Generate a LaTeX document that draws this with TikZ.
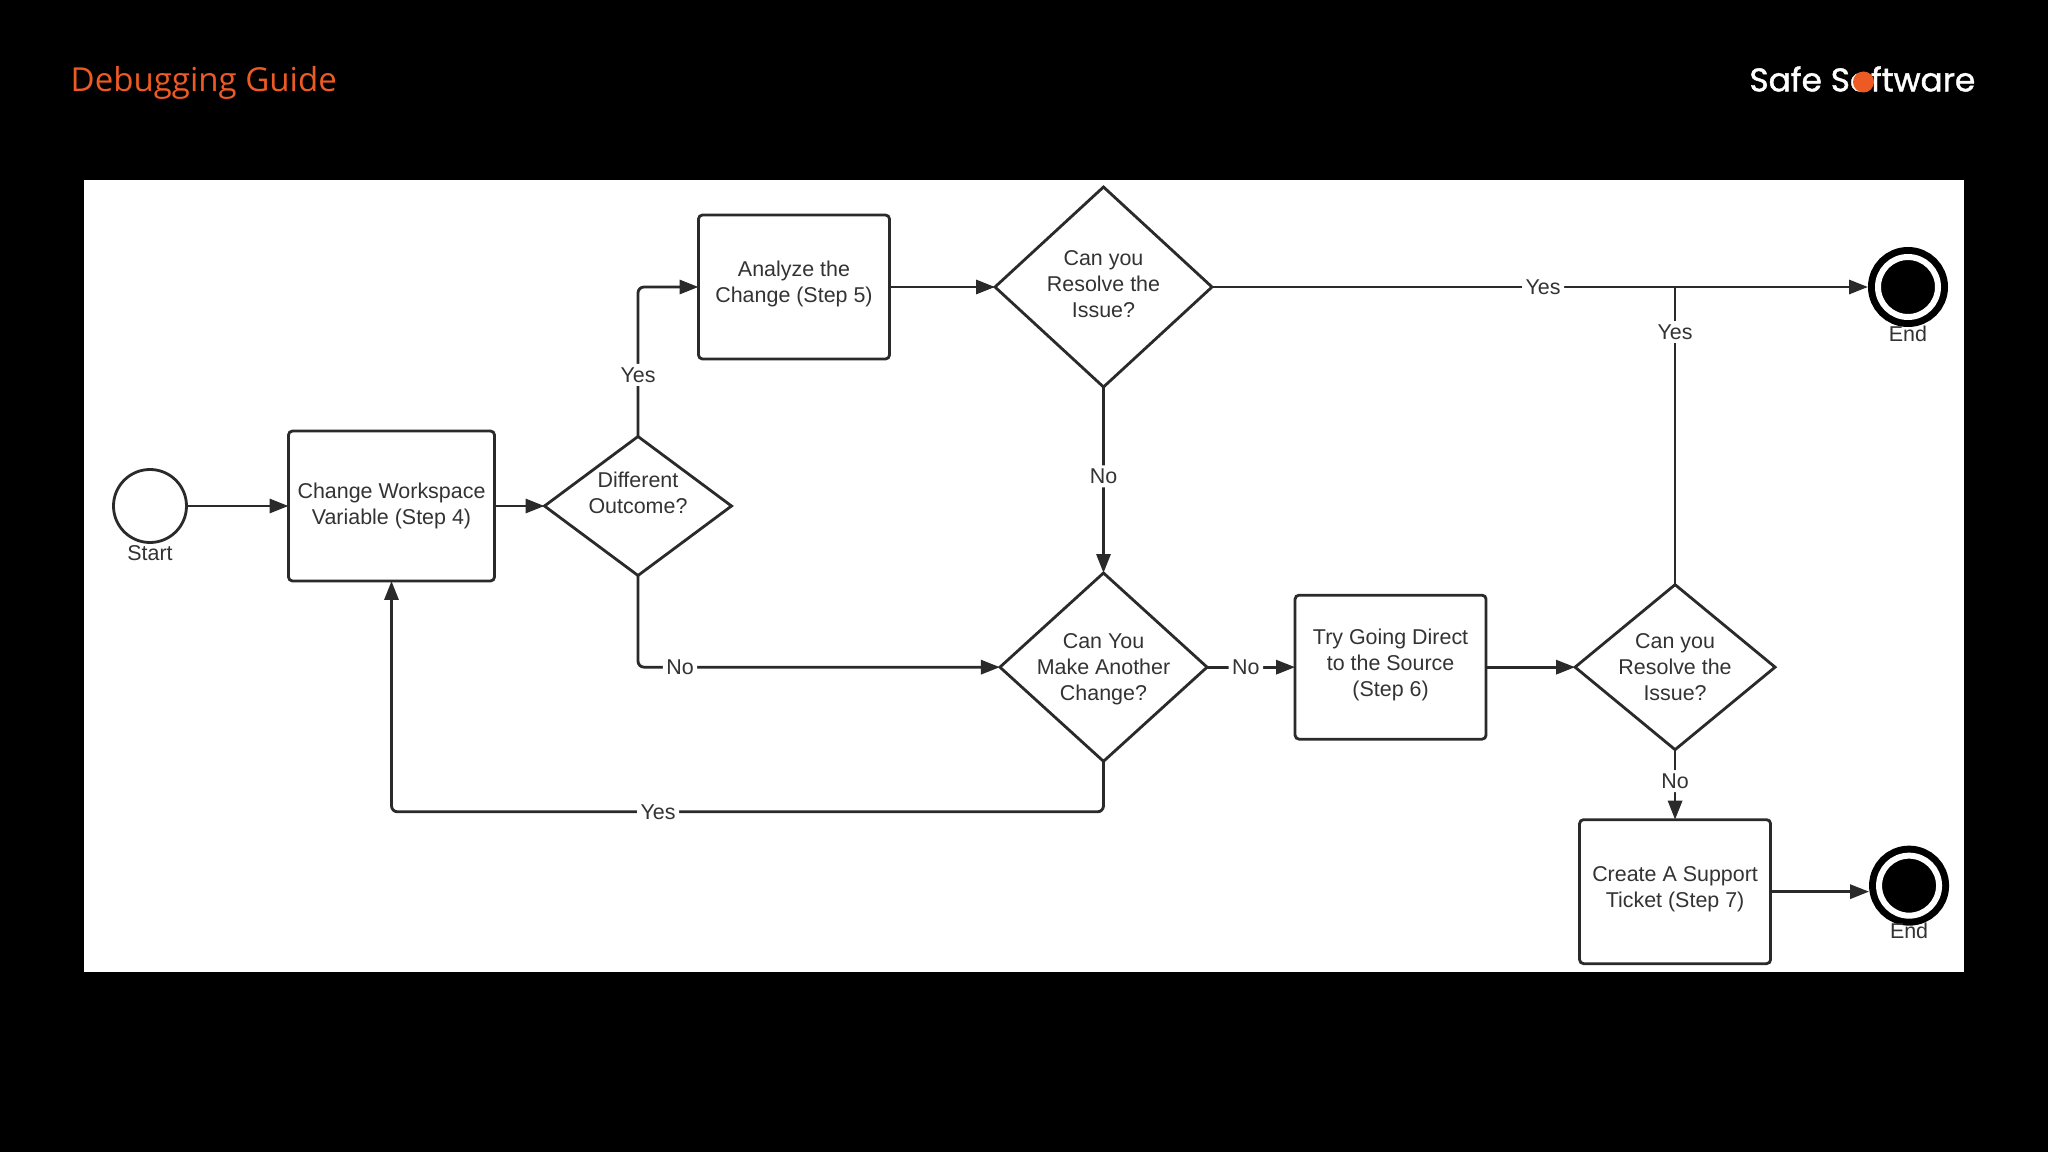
\documentclass[tikz,border=0pt]{standalone}
\usepackage{xcolor}
\usepackage{fontspec}
\setmainfont{Liberation Sans}
\newfontfamily\titlefont{Open Sans}
\newfontfamily\logofont[FakeBold=1.3]{Poppins}
\usepackage{tikz}
\usetikzlibrary{shapes.geometric, arrows.meta, positioning, calc}
\definecolor{safeorange}{HTML}{EE5A24}
\definecolor{pagebg}{HTML}{000000}
\definecolor{linemain}{HTML}{2A2A2A}
\definecolor{textmain}{HTML}{333333}
\tikzstyle{process} = [rectangle, rounded corners=0.04cm, minimum width=1.91cm, minimum height=1.44cm, inner sep=1pt, outer sep=0pt, align=center, draw=linemain, line width=0.8pt, fill=white]
\tikzstyle{decision} = [diamond, shape aspect=1.2, inner sep=0pt, outer sep=0pt, align=center, draw=linemain, line width=0.8pt, fill=white]
\tikzstyle{startstate} = [circle, minimum size=0.73cm, inner sep=0pt, outer sep=0pt, draw=linemain, line width=0.8pt, fill=white]
\tikzstyle{endstate} = [circle, minimum size=0.6cm, inner sep=0pt, outer sep=0.1cm, draw=black, line width=0.07cm, double=white, double distance=0.06cm, fill=black]
\tikzstyle{arrow} = [line width=0.8pt, ->, >={Stealth[inset=0pt, length=5.4pt, width=4pt]}, color=linemain, rounded corners=0.06cm]
\tikzstyle{plainline} = [line width=0.8pt, color=linemain]
\tikzstyle{edgelabel} = [fill=white, inner sep=1pt, text=textmain]
\tikzstyle{statelabel} = [inner sep=0pt, align=center, text=textmain]

\begin{document}
\begin{tikzpicture}[every node/.style={text=textmain, font=\fontsize{6.1}{7.4}\selectfont}]
    \fill[pagebg] (0,0) rectangle (20.48,-11.52);
    \fill[white] (0.84,-1.80) rectangle (19.64,-9.72);

    \node[anchor=west, inner sep=0pt, text=safeorange, font=\titlefont\fontsize{9.4}{11}\selectfont] (title) at (0.70,-0.83) {Debugging Guide};
    \node[anchor=east, inner sep=0pt, text=white, font=\logofont\fontsize{9.33}{11}\selectfont] (logo) at (19.76,-0.79) {Safe Software};
    \node[circle, fill=safeorange, minimum size=0.21cm, inner sep=0pt] (logodot) at (18.635,-0.82) {};

    \node[startstate] (start) at (1.50,-5.06) {};
    \node[statelabel, below=0.02cm of start] (startlabel) {Start};
    \node[process, right=1.02cm of start, minimum width=2.06cm, minimum height=1.50cm] (change) {Change Workspace\\Variable (Step 4)};
    \node[decision, right=0.50cm of change, minimum width=1.87cm, minimum height=1.39cm] (different) {};
    \node[statelabel, yshift=0.13cm] (differenttext) at (different.center) {Different\\Outcome?};
    \node[process, text depth=2.8pt] (analyze) at (7.94,-2.87) {Analyze the\\Change (Step 5)};
    \node[decision, right=1.055cm of analyze, minimum width=2.17cm, minimum height=2.00cm, text depth=1.5pt] (resolvea) {Can you\\Resolve the\\Issue?};
    \node[endstate, right=6.56cm of resolvea] (enda) {};
    \node[statelabel, below=-0.02cm of enda] (endalabel) {End};
    \node[decision, below=1.86cm of resolvea, shape aspect=1.1, minimum width=2.06cm, minimum height=1.87cm, text depth=0pt] (another) {Can You\\Make Another\\Change?};
    \node[process, right=0.88cm of another, text depth=2.4pt] (direct) {Try Going Direct\\to the Source\\(Step 6)};
    \node[decision, right=0.89cm of direct, minimum width=2.00cm, minimum height=1.65cm] (resolveb) {Can you\\Resolve the\\Issue?};
    \node[process, below=0.70cm of resolveb, text depth=2.8pt] (ticket) {Create A Support\\Ticket (Step 7)};
    \node[endstate, right=0.985cm of ticket, yshift=0.06cm] (endb) {};
    \node[statelabel, below=-0.03cm of endb] (endblabel) {End};

    \coordinate (loopcorner) at ($(another.south)+(0,-0.505)$);

    \draw[arrow] (start) -- (change);
    \draw[arrow] (change) -- (different);
    \draw[arrow] (different.north) |- node[edgelabel, pos=0.206] (yesanalyze) {Yes} (analyze.west);
    \draw[arrow] (different.south) |- node[edgelabel, pos=0.558] (noanother) {No} (another.west);
    \draw[arrow] (analyze) -- (resolvea);
    \draw[arrow] (resolvea) -- node[edgelabel, pos=0.5046] (yesend) {Yes} (enda);
    \draw[arrow] (resolvea) -- node[edgelabel, pos=0.48] (noresolve) {No} (another);
    \draw[arrow] (another) -- node[edgelabel, pos=0.44] (nodirect) {No} (direct);
    \draw[arrow] (direct) -- (resolveb);
    \draw[plainline] (resolveb.north) -- node[edgelabel, pos=0.848] (yesresolve) {Yes} (resolveb.north |- enda.west);
    \draw[arrow] (resolveb) -- node[edgelabel, pos=0.45] (noticket) {No} (ticket);
    \draw[arrow] (another.south) -- (loopcorner) -| node[edgelabel, pos=0.3128] (yesloop) {Yes} (change.south);
    \draw[arrow] (ticket.east) -- (ticket.east -| endb.west);
\end{tikzpicture}
\end{document}
